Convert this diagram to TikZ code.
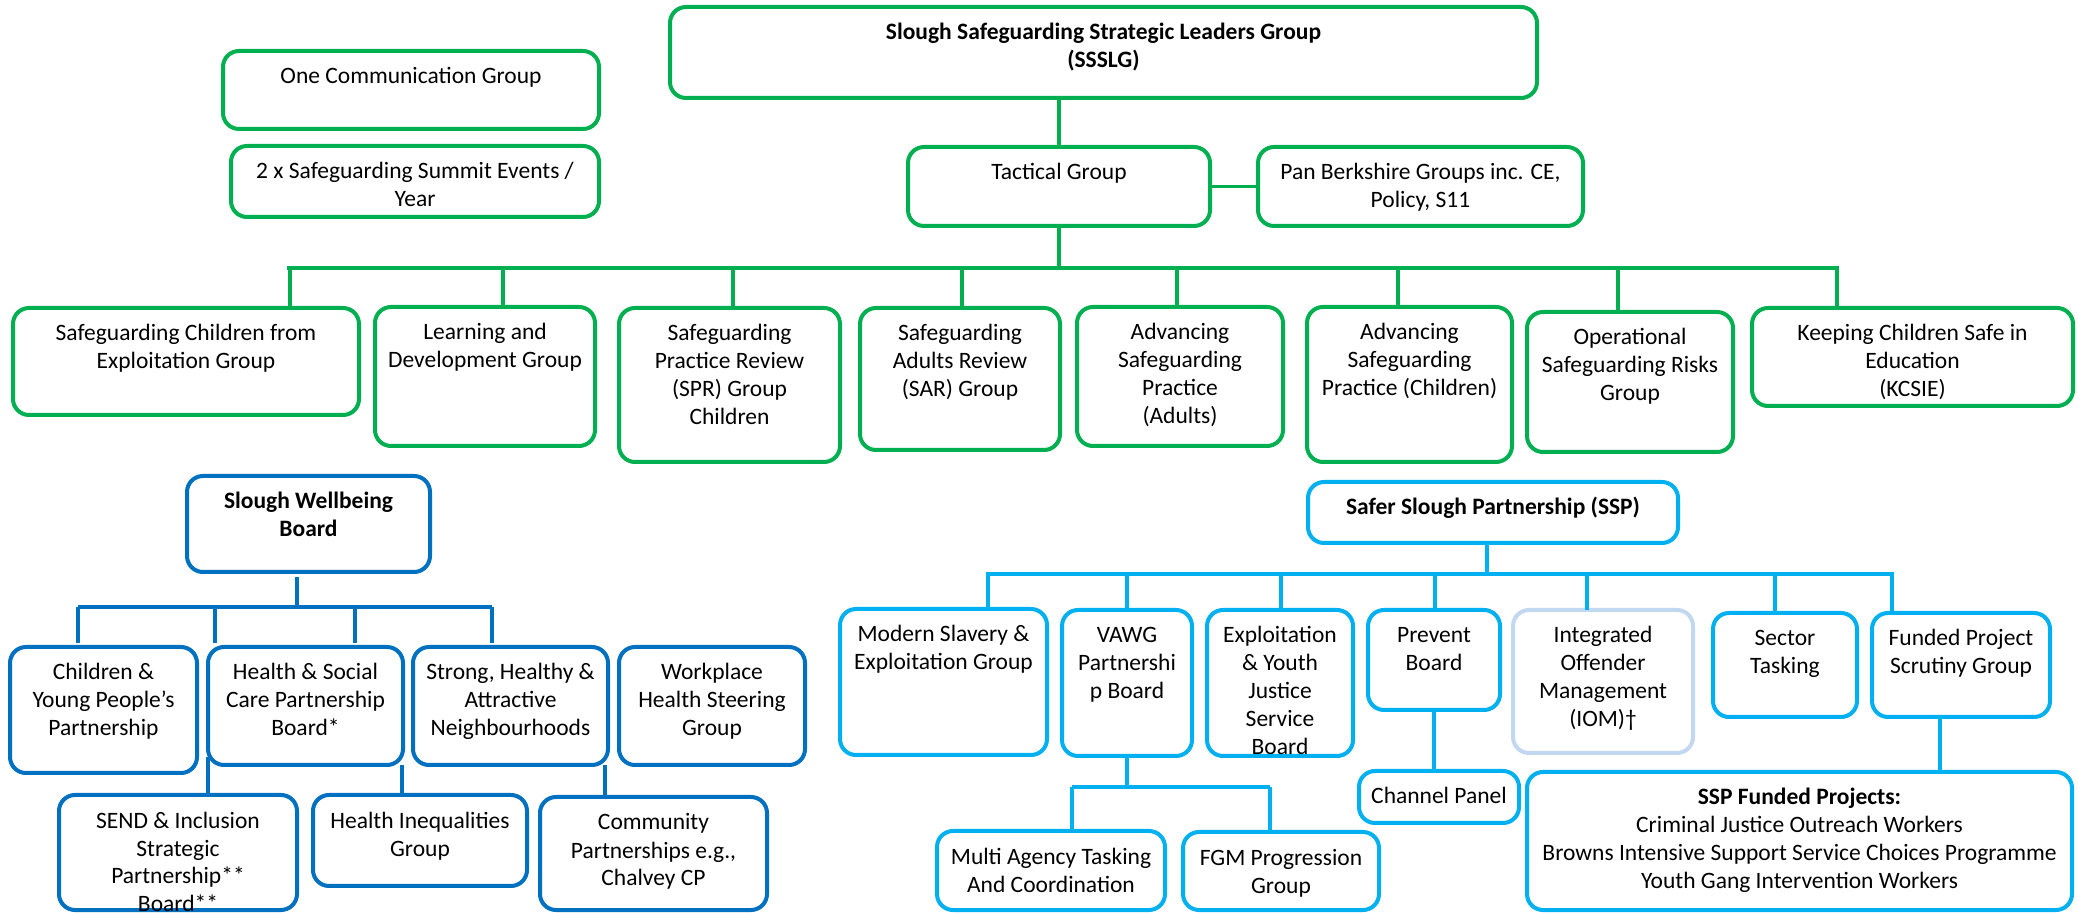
\documentclass[tikz,border=0pt]{standalone}
\usepackage{fontspec}
\setmainfont{Carlito}
\definecolor{sgreen}{HTML}{00B050}
\definecolor{sdblue}{HTML}{0070C0}
\definecolor{slblue}{HTML}{00B0F0}
\definecolor{siom}{HTML}{C2D8F0}
% name, x1, y1, x2, y2, style, text
\newcommand\orgbox[7]{%
  \node[#6, anchor=north west, inner sep=0pt, outer sep=0pt] (#1) at (#2,#3)
  {\parbox[t][\dimexpr(#5pt-#3pt)/2\relax][t]{\dimexpr(#4pt-#2pt)/2\relax}{\centering\rule{0pt}{16.5pt}#7\par}};}
\tikzset{
  basebox/.style={line width=2pt, rounded corners=8pt, fill=white,
    font=\fontsize{11.75pt}{14pt}\selectfont},
  gbox/.style={basebox, draw=sgreen},
  bbox/.style={basebox, draw=sdblue},
  lbox/.style={basebox, draw=slblue},
  ibox/.style={basebox, draw=siom},
  gline/.style={draw=sgreen, line width=1.7pt},
  bline/.style={draw=sdblue, line width=1.7pt},
  lline/.style={draw=slblue, line width=1.7pt},
  gbar/.style={draw=sgreen, line width=2.1pt},
  bbar/.style={draw=sdblue, line width=2.1pt},
  lbar/.style={draw=slblue, line width=2.1pt},
}
\begin{document}
\begin{tikzpicture}[x=0.5pt, y=-0.5pt]
\useasboundingbox[fill=white] (0,0) rectangle (2078,913);
% ---------------- green (SSSLG) ----------------
\orgbox{ssslg}{670}{7}{1537}{98}{gbox}{\bfseries Slough Safeguarding Strategic Leaders Group\\(SSSLG)}
\orgbox{onecom}{223}{51}{599}{129}{gbox}{One Communication Group}
\orgbox{summit}{231}{146}{599}{217}{gbox}{2 x Safeguarding Summit Events /\\Year}
\orgbox{tact}{908}{147}{1210}{226}{gbox}{Tactical Group}
\orgbox{pan}{1258}{147}{1583}{226}{gbox}{Pan Berkshire Groups inc. CE,\\Policy, S11}
\orgbox{scfe}{13}{308}{359}{415}{gbox}{Safeguarding Children from\\Exploitation Group}
\orgbox{lnd}{375}{307}{595}{446}{gbox}{Learning and\\Development Group}
\orgbox{spr}{619}{308}{840}{462}{gbox}{Safeguarding\\Practice Review\\(SPR) Group\\Children}
\orgbox{sar}{860}{308}{1060}{450}{gbox}{Safeguarding\\Adults Review\\(SAR) Group}
\orgbox{aspa}{1077}{307}{1283}{446}{gbox}{Advancing\\Safeguarding\\Practice\\(Adults)}
\orgbox{aspc}{1307}{307}{1512}{462}{gbox}{Advancing\\Safeguarding\\Practice (Children)}
\orgbox{opsr}{1527}{312}{1733}{452}{gbox}{Operational\\Safeguarding Risks\\Group}
\orgbox{kcsie}{1752}{308}{2073}{406}{gbox}{Keeping Children Safe in\\Education\\(KCSIE)}

\draw[gline] (tact.north) -- (tact.north |- ssslg.south);
\draw[gline] (tact.east) -- (pan.west);
\coordinate (gL) at (287,268);
\coordinate (gR) at (1839,268);
\draw[gbar] (gL) -- (gR);
\draw[gline] (tact.south) -- (tact.south |- gL);
\foreach \xx/\nm in {290/scfe, 503/lnd, 733/spr, 962/sar, 1177/aspa, 1398/aspc, 1618/opsr, 1837/kcsie}{
  \coordinate (gd-\nm) at (\xx,268);
  \draw[gline] (gd-\nm) -- (gd-\nm |- \nm.north);
}
% ---------------- dark blue (Wellbeing) ----------------
\orgbox{swb}{187}{476}{430}{572}{bbox}{\bfseries Slough Wellbeing\\Board}
\orgbox{cyp}{10}{647}{197}{773}{bbox}{Children \&\\Young People’s\\Partnership}
\orgbox{hsc}{208}{647}{403}{765}{bbox}{Health \& Social\\Care Partnership\\Board*}
\orgbox{strong}{413}{647}{608}{765}{bbox}{Strong, Healthy \&\\Attractive\\Neighbourhoods}
\orgbox{work}{619}{647}{805}{765}{bbox}{Workplace\\Health Steering\\Group}
\orgbox{send}{59}{795}{297}{910}{bbox}{SEND \& Inclusion\\Strategic\\Partnership**\\Board**}
\orgbox{hineq}{313}{795}{527}{886}{bbox}{Health Inequalities\\Group}
\orgbox{comm}{540}{797}{767}{910}{bbox}{Community\\Partnerships e.g.,\\Chalvey CP}

\coordinate (bL) at (78,607);
\coordinate (bR) at (492,607);
\coordinate (b0) at (297,607);
\draw[bbar] (bL) -- (bR);
\draw[bline, shorten >=2.5pt] (b0) -- (b0 |- swb.south);
\foreach \xx/\nm in {78/cyp, 215/hsc, 355/hsc, 492/strong}{
  \coordinate (bd) at (\xx,607);
  \draw[bline, shorten >=2pt] (bd) -- (bd |- \nm.north);
}
\draw[bline] ([yshift=4pt]hsc.south west) -- (hsc.south west |- send.north);
\draw[bline] ([xshift=-0.5pt]hsc.south east) -- ([xshift=-0.5pt]hsc.south east |- hineq.north);
\draw[bline] ([xshift=-1.5pt]strong.south east) -- ([xshift=-1.5pt]strong.south east |- comm.north);
% ---------------- light blue (SSP) ----------------
\orgbox{ssp}{1308}{482}{1678}{543}{lbox}{\bfseries Safer Slough Partnership (SSP)}
\orgbox{msl}{840}{609}{1047}{755}{lbox}{Modern Slavery \&\\Exploitation Group}
\orgbox{vawg}{1062}{610}{1192}{756}{lbox}{VAWG\\Partnershi\\p Board}
\orgbox{eyj}{1207}{610}{1353}{756}{lbox}{Exploitation\\\& Youth\\Justice\\Service\\Board}
\orgbox{prev}{1368}{610}{1500}{710}{lbox}{Prevent\\Board}
\orgbox{iom}{1513}{610}{1693}{753}{ibox}{Integrated\\Offender\\Management\\(IOM)†}
\orgbox{sect}{1713}{613}{1857}{717}{lbox}{Sector\\Tasking}
\orgbox{fund}{1872}{613}{2050}{717}{lbox}{Funded Project\\Scrutiny Group}
\orgbox{chan}{1359}{771}{1519}{823}{lbox}{Channel Panel}
\orgbox{multi}{937}{831}{1165}{910}{lbox}{Multi Agency Tasking\\And Coordination}
\orgbox{fgm}{1183}{832}{1379}{910}{lbox}{FGM Progression\\Group}
\orgbox{sspf}{1527}{772}{2072}{910}{lbox}{{\bfseries SSP Funded Projects:}\\Criminal Justice Outreach Workers\\Browns Intensive Support Service Choices Programme\\Youth Gang Intervention Workers}

\coordinate (lL) at (986,574);
\coordinate (lR) at (1894,574);
\draw[lbar] (lL) -- (lR);
\coordinate (l0) at (1487,574);
\draw[lline] (l0) -- (l0 |- ssp.south);
\foreach \xx/\nm in {988/msl, 1127/vawg, 1281/eyj, 1435/prev, 1587/iom, 1775/sect, 1892/fund}{
  \coordinate (ld) at (\xx,574);
  \draw[lline] (ld) -- (ld |- \nm.north);
}
\coordinate (vL) at (1072,787);
\coordinate (vR) at (1270,787);
\draw[lbar] (vL) -- (vR);
\draw[lline] (vawg.south) -- (vawg.south |- vL);
\draw[lline] (vL) -- (vL |- multi.north);
\draw[lline] (vR) -- (vR |- fgm.north);
\draw[lline] (prev.south) -- (prev.south |- chan.north);
\coordinate (f0) at (1940,717);
\draw[lline] (f0 |- fund.south) -- (f0 |- sspf.north);
\end{tikzpicture}
\end{document}
